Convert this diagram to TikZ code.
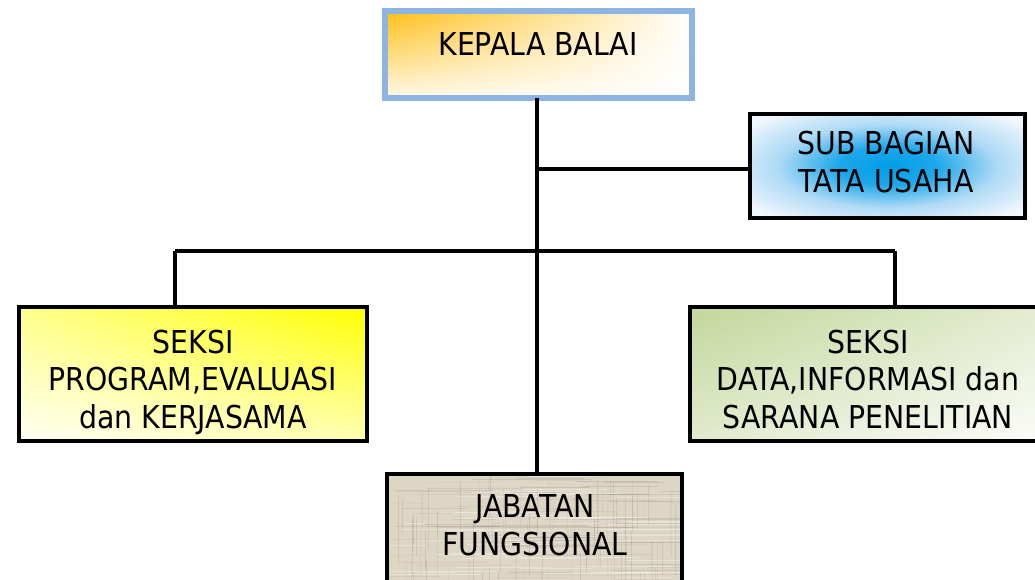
\documentclass[tikz,border=0pt]{standalone}
\usepackage{fontspec}
\usetikzlibrary{shadings}
\newfontfamily\tahoma[FakeStretch=0.9]{DejaVu Sans}
\definecolor{kbblue}{RGB}{142,180,227}
\definecolor{kborange}{RGB}{255,190,20}
\definecolor{sbblue}{RGB}{0,158,232}
\definecolor{sbmid}{RGB}{120,195,240}
\definecolor{sbpale}{RGB}{242,247,253}
\definecolor{ylw}{RGB}{255,255,0}
\definecolor{grn}{RGB}{195,214,155}
\definecolor{beige}{RGB}{222,214,197}
\pgfdeclareradialshading{subglow}{\pgfpoint{0bp}{0bp}}{color(0bp)=(sbblue); color(9bp)=(sbblue!75!sbmid); color(20bp)=(sbmid!55!sbpale); color(32bp)=(sbpale); color(50bp)=(sbpale)}
\begin{document}
\begin{tikzpicture}[x=1pt,y=-1pt,
  box/.style={draw=black, line width=4.2pt, outer sep=0pt, inner sep=0pt},
  lbl/.style={font=\tahoma\fontsize{31.5}{37.5}\selectfont, align=center, anchor=base, inner sep=0pt, text=black},
  conn/.style={draw=black, line width=3.4pt},
  grain/.style={line width=0.9pt}]
\useasboundingbox (0,0) rectangle (1035,579);
\fill[white] (0,0) rectangle (1035,579);
\begin{scope}
\clip (0,0) rectangle (1035,579);
% boxes
\node[box, draw=kbblue, line width=5.5pt, minimum width=307pt, minimum height=87pt,
  upper left=kborange, upper right=white, lower left=kborange!10!white, lower right=white] (kb) at (538.5,54.5) {};
\node[box, minimum width=275pt, minimum height=104pt, shading=subglow] (sb) at (887.5,166) {};
\node[box, minimum width=348pt, minimum height=134pt,
  upper left=ylw!45!white, upper right=ylw, lower left=ylw!4!white, lower right=ylw!30!white] (ls) at (193,374) {};
\node[box, minimum width=362pt, minimum height=134pt,
  upper left=grn, upper right=grn!45!white, lower left=grn!50!white, lower right=grn!5!white] (rs) at (871,374) {};
\node[box, fill=beige, minimum width=295pt, minimum height=126pt] (jf) at (534.5,537) {};
% burlap texture
\begin{scope}
\clip (389,476) rectangle (680,600);
\pgfmathsetseed{7}
\foreach \i in {0,...,90} {
  \pgfmathsetmacro{\xx}{389+rnd*291}
  \pgfmathsetmacro{\op}{0.05+0.2*rnd}
  \pgfmathsetmacro{\ya}{476+rnd*100}
  \draw[grain, draw=beige!60!black, opacity=\op] (\xx,\ya) -- (\xx,\ya+20+rnd*60);
}
\foreach \i in {0,...,90} {
  \pgfmathsetmacro{\yy}{476+rnd*110}
  \pgfmathsetmacro{\op}{0.05+0.2*rnd}
  \pgfmathsetmacro{\xa}{389+rnd*260}
  \draw[grain, draw=beige!60!black, opacity=\op] (\xa,\yy) -- (\xa+30+rnd*90,\yy);
}
\foreach \i in {0,...,60} {
  \pgfmathsetmacro{\yy}{476+rnd*110}
  \pgfmathsetmacro{\xa}{389+rnd*260}
  \draw[grain, draw=white, opacity=0.3] (\xa,\yy) -- (\xa+30+rnd*90,\yy);
}
\end{scope}
\draw[line width=4.2pt] (jf.north west) -- (jf.north east) (jf.north west) -- (jf.south west) (jf.north east) -- (jf.south east);
% labels
\node[lbl] (kbt) at (538,55) {KEPALA BALAI};
\node[lbl] (sbt) at (886,192) {SUB BAGIAN\\TATA USAHA};
\node[lbl] (lst) at (193,428) {SEKSI\\PROGRAM,EVALUASI\\dan KERJASAMA};
\node[lbl] (rst) at (868,428) {SEKSI\\DATA,INFORMASI dan\\SARANA PENELITIAN};
\node[lbl] (jft) at (535,555) {JABATAN\\FUNGSIONAL};
% connectors
\coordinate (sp) at (537,169);
\coordinate (lb) at (175,251);
\coordinate (rb) at (895,251);
\draw[conn] (kb.south -| sp) -- (jf.north -| sp);
\draw[conn] (sp) -- (sp -| sb.west);
\draw[conn] (lb) -- (rb);
\draw[conn] (lb) -- (lb |- ls.north);
\draw[conn] (rb) -- (rb |- rs.north);
\end{scope}
\end{tikzpicture}
\end{document}
